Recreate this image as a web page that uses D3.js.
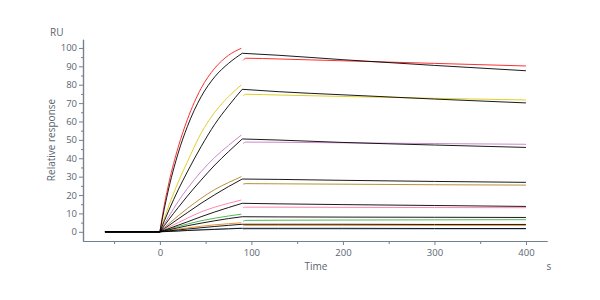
<!doctype html>
<html>
  <head>
    <script src="https://cdnjs.cloudflare.com/ajax/libs/d3/7.8.5/d3.min.js"></script>
    <style>
      body { margin: 0; background: #fff; }
      text { font-family: "Open Sans", sans-serif; fill: #5a6570; }
      .axis path, .axis line { stroke: #74808c; }
      .axis text { font-size: 9.5px; }
      .label { font-size: 10px; }
    </style>
  </head>
  <body>
    <svg width="600" height="300"></svg>
    <script>
      // sample times (s)
      var baseT = [-60, 0];
      var assocT = [0, 5, 10, 20, 30, 45, 60, 75, 90];
      var dataAssocT = [0, 5, 10, 20, 30, 45, 60, 75, 89];
      var fitDissocT = [90, 130, 200, 300, 400];
      var dataDissocT = [91, 94, 130, 200, 300, 400];

      var colors = ["#ff3030", "#e2cf2a", "#cc88cc", "#b8913a", "#ff88b4", "#55b855", "#ea9230", "#8fb0d0"];

      // measured responses (RU), one row per concentration
      var dataAssoc = [
        [0, 15, 27, 46, 61, 78, 89, 96, 99.8],
        [0, 7.5, 14.5, 27, 38, 53.6, 65, 73.5, 79.9],
        [0, 4.3, 8.5, 16.5, 23.5, 32.7, 40.5, 47, 52.6],
        [0, 2.3, 4.5, 8.7, 12.7, 18.2, 23, 26.8, 30],
        [0, 1.3, 2.6, 5, 7.4, 10.8, 13.4, 15.5, 17.3],
        [0, 0.8, 1.5, 2.9, 4.2, 6.0, 7.4, 8.6, 9.6],
        [0, 0.4, 0.8, 1.5, 2.1, 3.0, 3.8, 4.4, 4.9],
        [0, 0.15, 0.3, 0.6, 0.8, 1.2, 1.5, 1.8, 2.0]
      ];
      var dataDissoc = [
        [93.3, 94.4, 94.0, 93.0, 91.6, 90.2],
        [74.0, 74.8, 74.4, 73.6, 72.6, 71.7],
        [48.1, 48.8, 48.7, 48.4, 48.0, 47.6],
        [26.0, 26.2, 26.1, 25.9, 25.6, 25.4],
        [13.1, 13.4, 13.4, 13.3, 13.2, 13.1],
        [5.8, 6.2, 6.3, 6.4, 6.5, 6.6],
        [3.2, 3.5, 3.5, 3.5, 3.5, 3.5],
        [1.3, 1.5, 1.5, 1.5, 1.5, 1.5]
      ];

      // fitted curves (black)
      var fitAssoc = [
        [0, 12.9, 24.3, 42.8, 57.2, 73.4, 84.3, 91.6, 97.1],
        [0, 6.1, 11.9, 22.8, 32.6, 46.3, 58.5, 68.5, 77.5],
        [0, 3.4, 6.8, 13.2, 19.4, 28.1, 36.3, 43.6, 50.5],
        [0, 1.8, 3.5, 7.0, 10.4, 15.5, 20.2, 24.6, 28.7],
        [0, 0.9, 1.8, 3.6, 5.4, 8.2, 10.8, 13.2, 15.5],
        [0, 0.5, 1.1, 2.2, 3.3, 4.7, 6.0, 7.2, 8.2],
        [0, 0.3, 0.5, 1.0, 1.5, 2.2, 2.9, 3.5, 4.1],
        [0, 0.1, 0.2, 0.4, 0.7, 1.0, 1.3, 1.6, 1.9]
      ];
      var fitDissoc = [
        [97.1, 96.0, 93.6, 90.5, 87.6],
        [77.5, 76.2, 74.5, 72.2, 70.1],
        [50.5, 49.9, 48.6, 47.2, 45.9],
        [28.7, 28.5, 28.0, 27.4, 26.9],
        [15.5, 15.2, 14.8, 14.3, 13.8],
        [8.2, 8.1, 8.0, 7.9, 7.8],
        [4.1, 4.1, 4.1, 4.0, 4.0],
        [1.9, 1.9, 1.9, 1.8, 1.8]
      ];

      var yMajor = d3.range(0, 101, 10);
      var yMinor = d3.range(5, 100, 10);
      var xMajor = [0, 100, 200, 300, 400];
      var xMinor = [-50, 50, 150, 250, 350];

      var svg = d3.select("svg");

      var x = d3.scaleLinear().domain([-84, 423]).range([83, 547]);
      var y = d3.scaleLinear().domain([-5, 104.7]).range([241, 39.3]);

      var line = d3.line()
        .x(d => x(d[0]))
        .y(d => y(d[1]))
        .curve(d3.curveMonotoneX);

      function pts(ts, vs) { return ts.map((t, i) => [t, vs[i]]); }

      // axes
      svg.append("g")
          .attr("class", "axis")
          .attr("transform", "translate(0,241)")
          .call(d3.axisBottom(x).tickValues(xMinor).tickSize(3).tickSizeOuter(0).tickFormat(""));
      svg.append("g")
          .attr("class", "axis")
          .attr("transform", "translate(0,241)")
          .call(d3.axisBottom(x).tickValues(xMajor).tickSize(4).tickSizeOuter(0).tickPadding(4));

      svg.append("g")
          .attr("class", "axis")
          .attr("transform", "translate(83,0)")
          .call(d3.axisLeft(y).tickValues(yMinor).tickSize(2).tickSizeOuter(0).tickFormat(""));
      svg.append("g")
          .attr("class", "axis")
          .attr("transform", "translate(83,0)")
          .call(d3.axisLeft(y).tickValues(yMajor).tickSize(4).tickSizeOuter(0).tickPadding(2));

      svg.selectAll(".domain").attr("stroke-width", 1.2);

      // measured data
      var curves = svg.append("g").attr("fill", "none");
      colors.forEach(function (c, i) {
        curves.append("path")
          .attr("d", line(pts(dataAssocT, dataAssoc[i])))
          .attr("stroke", c).attr("stroke-width", 1);
        curves.append("path")
          .attr("d", line(pts(dataDissocT, dataDissoc[i])))
          .attr("stroke", c).attr("stroke-width", 1);
      });

      // fits
      fitAssoc.forEach(function (f, i) {
        curves.append("path")
          .attr("d", line(pts(baseT, [0, 0])))
          .attr("stroke", "#000").attr("stroke-width", 1);
        curves.append("path")
          .attr("d", line(pts(assocT, f)))
          .attr("stroke", "#000").attr("stroke-width", 0.9);
        curves.append("path")
          .attr("d", line(pts(fitDissocT, fitDissoc[i])))
          .attr("stroke", "#000").attr("stroke-width", 0.9);
      });

      // labels
      svg.append("text").attr("class", "label")
        .attr("x", 50).attr("y", 36).text("RU");
      svg.append("text").attr("class", "label")
        .attr("transform", "translate(55,140) rotate(-90)")
        .attr("text-anchor", "middle").text("Relative response");
      svg.append("text").attr("class", "label")
        .attr("x", 316).attr("y", 270).attr("text-anchor", "middle").text("Time");
      svg.append("text").attr("class", "label")
        .attr("x", 549).attr("y", 270).attr("text-anchor", "middle").text("s");
    </script>
  </body>
</html>
